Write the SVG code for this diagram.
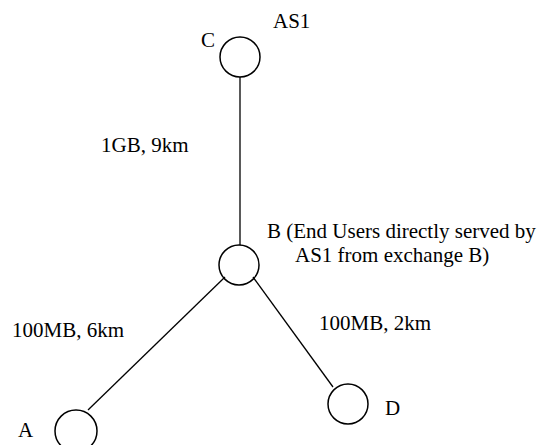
<svg xmlns="http://www.w3.org/2000/svg" width="542" height="445" viewBox="0 0 542 445">
<style>
.n{fill:none;stroke:#000;stroke-width:1.5}
.e{stroke:#000;stroke-width:1.3;fill:none}
.t{font-family:'Liberation Serif','DejaVu Serif',serif;font-size:21px;fill:#000}
</style>
<rect width="542" height="445" fill="#fff"/>
<g id="connectors">
<line class="e" x1="240" y1="77" x2="240" y2="245"/>
<line class="e" x1="225" y1="277" x2="88" y2="410"/>
<line class="e" x1="253" y1="277" x2="333" y2="387"/>
</g>
<g id="nodeC"><circle class="n" cx="240" cy="57" r="20"/><text class="t" font-family="Liberation Serif" x="201" y="47">C</text></g>
<g id="nodeB"><circle class="n" cx="239" cy="265" r="20"/><text class="t" font-family="Liberation Serif" x="267" y="238">B (End Users directly served by</text><text class="t" font-family="Liberation Serif" x="295" y="262">AS1 from exchange B)</text></g>
<g id="nodeA"><circle class="n" cx="76" cy="431" r="21"/><text class="t" font-family="Liberation Serif" x="18" y="437">A</text></g>
<g id="nodeD"><circle class="n" cx="348" cy="404" r="20"/><text class="t" font-family="Liberation Serif" x="385" y="415">D</text></g>
<g id="labels">
<text class="t" font-family="Liberation Serif" x="273" y="28">AS1</text>
<text class="t" font-family="Liberation Serif" x="101" y="152">1GB, 9km</text>
<text class="t" font-family="Liberation Serif" x="12" y="337">100MB, 6km</text>
<text class="t" font-family="Liberation Serif" x="319" y="330">100MB, 2km</text>
</g>
</svg>
